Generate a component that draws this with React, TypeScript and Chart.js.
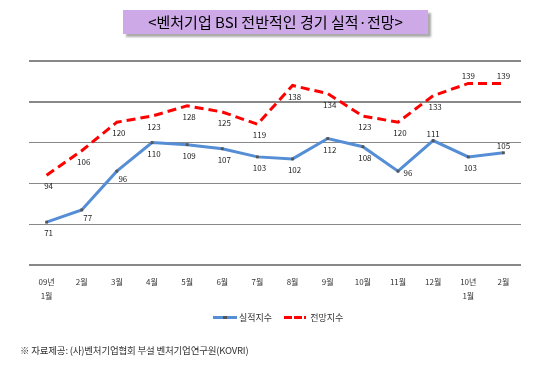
import React, { useEffect, useRef } from "react";
import { Chart, registerables } from "chart.js";

Chart.register(...registerables);

const categories: (string | string[])[] = [
  ["09년", "1월"], "2월", "3월", "4월", "5월", "6월", "7월", "8월", "9월", "10월", "11월", "12월", ["10년", "1월"], "2월",
];
const actualValues = [71, 77, 96, 110, 109, 107, 103, 102, 112, 108, 96, 111, 103, 105];
const forecastValues = [94, 106, 120, 123, 128, 125, 119, 138, 134, 123, 120, 133, 139, 139];
const actualLabelPos = ["b", "br", "br", "b", "b", "b", "b", "b", "b", "b", "r", "a", "b", "a"];
const forecastLabelPos = ["b", "b", "b", "b", "b", "b", "b", "b", "b", "b", "b", "b", "a", "a"];
const yTicks = [50, 70, 90, 110, 130, 150];

const FONT = "'Noto Sans CJK KR', 'Noto Sans', sans-serif";

const labelPlugin = {
  id: "pointLabels",
  afterDatasetsDraw(chart: any) {
    const ctx = chart.ctx;
    ctx.save();
    ctx.font = `8px ${FONT}`;
    ctx.fillStyle = "#222";
    ctx.textAlign = "center";
    ctx.textBaseline = "middle";
    chart.data.datasets.forEach((ds: any, di: number) => {
      const meta = chart.getDatasetMeta(di);
      const pos = di === 0 ? actualLabelPos : forecastLabelPos;
      meta.data.forEach((pt: any, i: number) => {
        let dx = 2, dy = 11;
        const p = pos[i];
        if (p === "a") { dx = 0; dy = -7; }
        else if (p === "br") { dx = 6; dy = 8; }
        else if (p === "r") { dx = 10; dy = 2; }
        ctx.fillText(String(ds.data[i]), pt.x + dx, pt.y + dy);
      });
    });
    ctx.restore();
  },
};

export default function App() {
  const ref = useRef<HTMLCanvasElement>(null);
  useEffect(() => {
    document.body.style.margin = "0";
    const chart = new Chart(ref.current!, {
      type: "line",
      data: {
        labels: categories,
        datasets: [
          {
            label: "실적지수",
            data: actualValues,
            borderColor: "#558ED5",
            borderWidth: 3,
            pointStyle: "rect",
            pointRadius: 2,
            pointBackgroundColor: "#555",
            pointBorderColor: "#555",
            pointBorderWidth: 0,
            tension: 0,
          },
          {
            label: "전망지수",
            data: forecastValues,
            borderColor: "#FF0000",
            borderWidth: 3,
            borderDash: [9, 5],
            pointRadius: 0,
            tension: 0,
          },
        ],
      },
      options: {
        animation: false,
        responsive: false,
        layout: { padding: { top: 61, left: 29, right: 39, bottom: 61 } },
        plugins: { legend: { display: false }, tooltip: { enabled: false } },
        scales: {
          x: {
            offset: true,
            grid: { display: false, drawTicks: false },
            border: { display: false },
            ticks: {
              color: "#333",
              font: { size: 8, family: FONT, lineHeight: 1.75 },
              padding: 10,
              maxRotation: 0,
              autoSkip: false,
            },
            afterFit: (s: any) => { s.height = 40; },
          },
          y: {
            min: 50,
            max: 150,
            afterBuildTicks: (s: any) => { s.ticks = yTicks.map((v) => ({ value: v })); },
            ticks: { display: false },
            grid: {
              color: "#888888",
              lineWidth: (c: any) => ([50, 130, 150].includes(c.tick?.value) ? 2 : 1),
              drawTicks: false,
            },
            border: { display: false },
            afterFit: (s: any) => { s.width = 0; },
          },
        },
      },
      plugins: [labelPlugin],
    });
    return () => chart.destroy();
  }, []);

  return (
    <div style={{ position: "relative", width: 560, height: 366, background: "#fff", overflow: "hidden", fontFamily: FONT }}>
      <canvas ref={ref} width={560} height={366} style={{ position: "absolute", left: 0, top: 0 }} />
      <div
        style={{
          position: "absolute", left: 123, top: 10, width: 305, height: 24,
          background: "#CDA9E7", boxShadow: "3px 3px 2px #aaa",
          fontSize: 15, lineHeight: "24px", textAlign: "center", color: "#000",
        }}
      >
        &lt;벤처기업 BSI 전반적인 경기 실적·전망&gt;
      </div>
      <div style={{ position: "absolute", left: 213, top: 311, display: "flex", alignItems: "center", fontSize: 9, color: "#333" }}>
        <div style={{ position: "relative", width: 24, height: 3, background: "#558ED5", marginRight: 2 }}>
          <div style={{ position: "absolute", left: 10, top: 0, width: 4, height: 3, background: "#555" }} />
        </div>
        <span>실적지수</span>
        <div style={{ width: 22, height: 3, marginLeft: 12, marginRight: 4, background: "repeating-linear-gradient(90deg,#f00 0 8px,transparent 8px 10px)" }} />
        <span>전망지수</span>
      </div>
      <div style={{ position: "absolute", left: 20, top: 343, fontSize: 9.5, letterSpacing: -0.2, color: "#333" }}>
        ※ 자료제공: (사)벤처기업협회 부설 벤처기업연구원(KOVRI)
      </div>
    </div>
  );
}
